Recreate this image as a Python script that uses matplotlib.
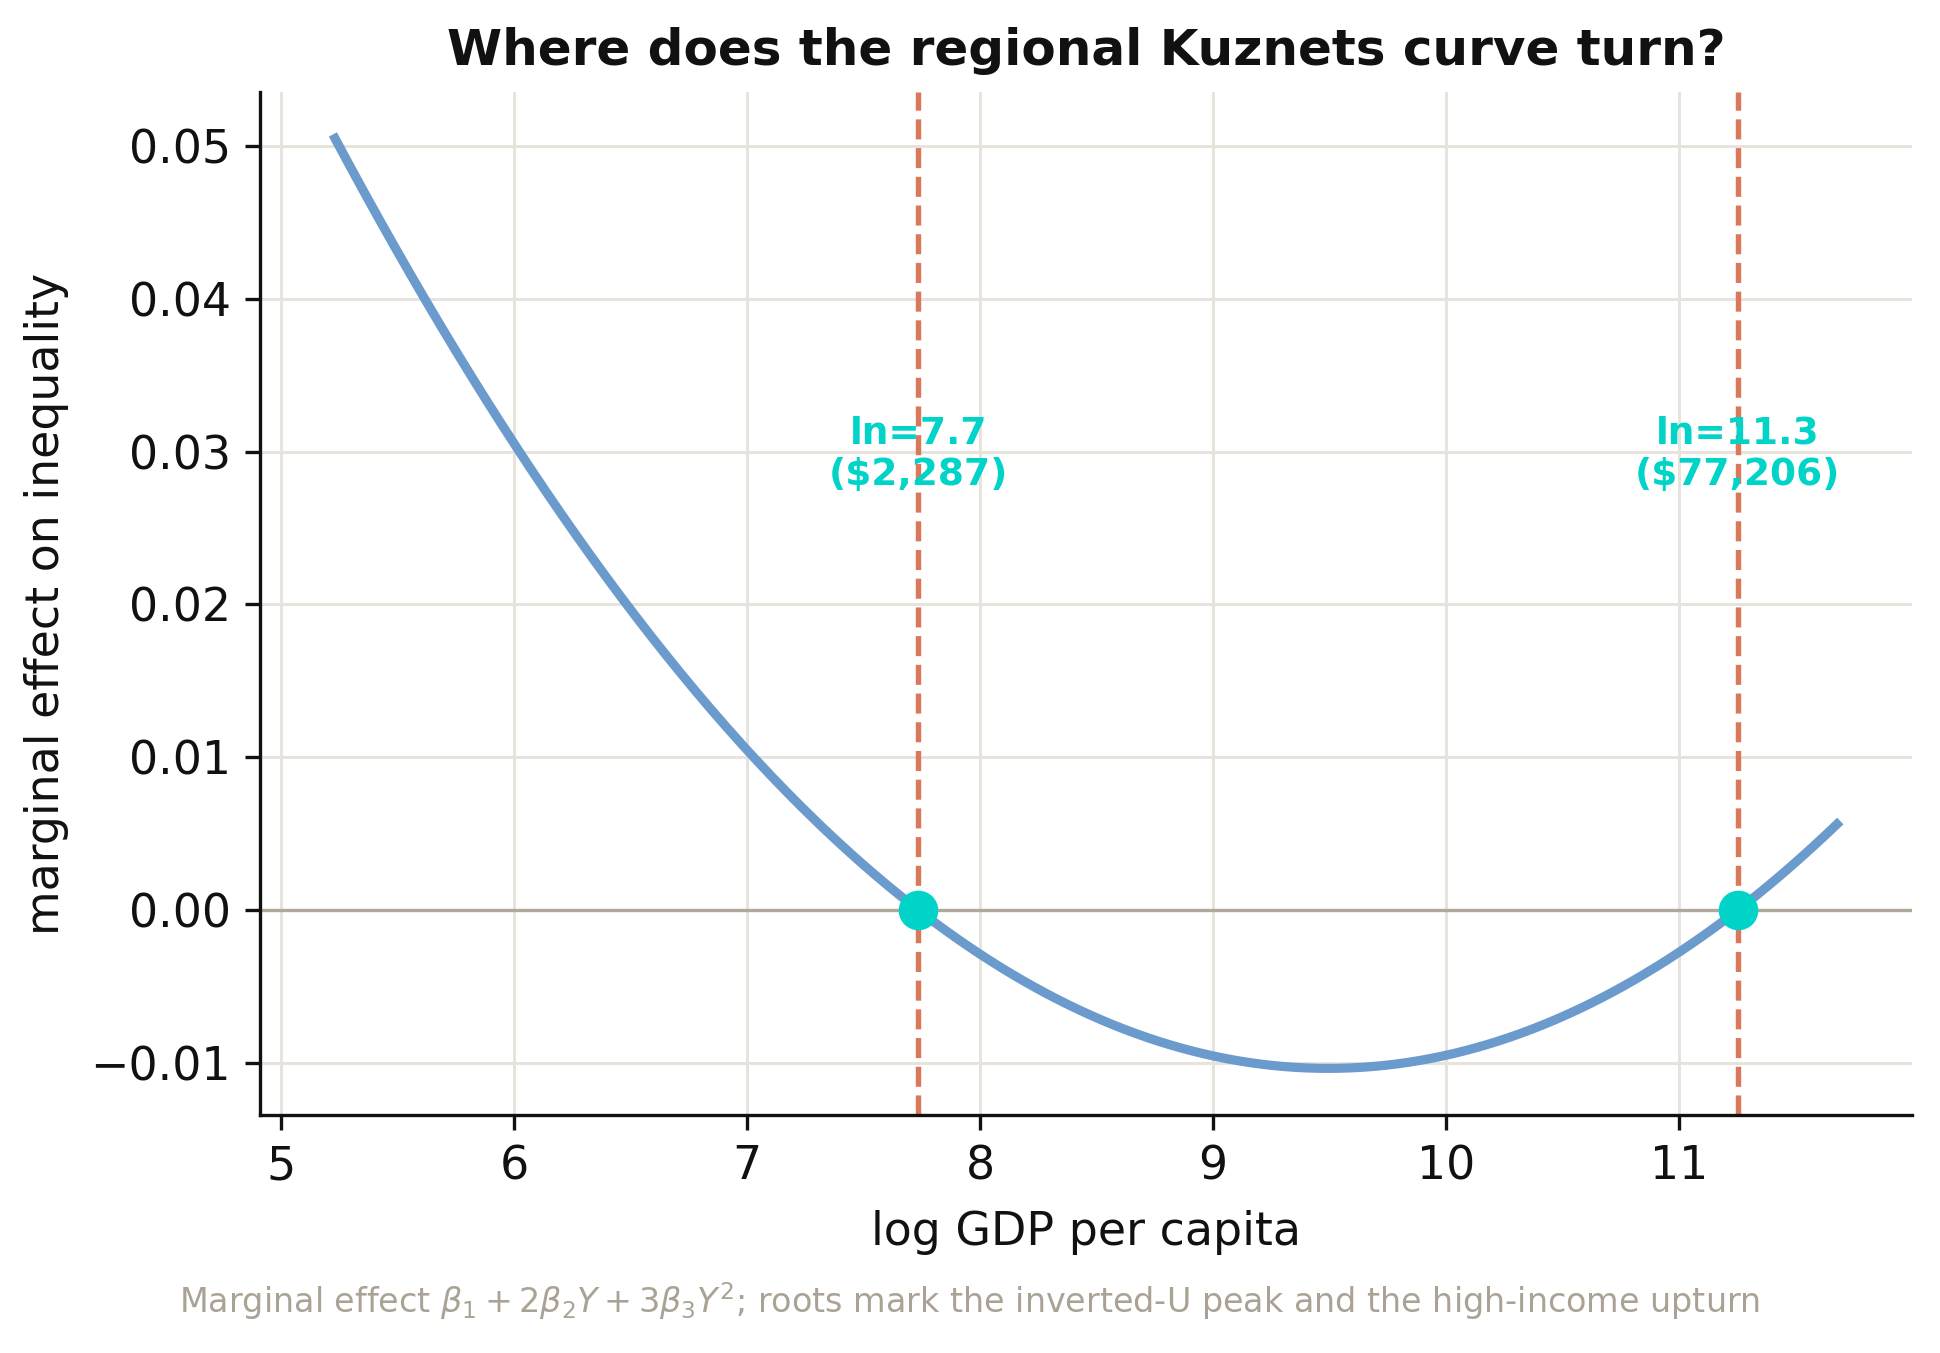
import numpy as np
import matplotlib
matplotlib.use("Agg")
import matplotlib.pyplot as plt

# --- data (coefficients of the cubic Kuznets specification) ---
turn_points_usd = [2287, 77206]          # dollar values at the roots
k_curv = 0.003345                        # 3*beta3
log_gdp_min, log_gdp_max = 5.23, 11.68   # observed log GDP range

roots = np.log(np.array(turn_points_usd, dtype=float))
beta3 = k_curv / 3.0
beta2 = -k_curv * (roots[0] + roots[1]) / 2.0
beta1 = k_curv * roots[0] * roots[1]

Y = np.linspace(log_gdp_min, log_gdp_max, 400)
me = beta1 + 2 * beta2 * Y + 3 * beta3 * Y ** 2

fig = plt.figure(figsize=(1940 / 300, 1353 / 300), dpi=300)
ax = fig.add_axes([0.134, 0.176, 0.8516, 0.756])

ax.grid(True, color="#e6e3dc", linewidth=0.7, zorder=0)
ax.set_axisbelow(True)
ax.axhline(0, color="#b0a89a", linewidth=0.8, zorder=1)
ax.plot(Y, me, color="#6b9bcc", linewidth=2.2, zorder=3)

for r, usd in zip(roots, turn_points_usd):
    ax.axvline(r, color="#d9795a", linestyle="--", linewidth=1.3, zorder=2)
    ax.plot([r], [0], "o", color="#00d4c8", markersize=8.5, zorder=4)
    ax.text(r, 0.0298, f"ln={r:.1f}\n(${usd:,})", color="#00d4c8",
            fontsize=9, fontweight="bold", ha="center", va="center",
            linespacing=1.2, zorder=5)

ax.set_xticks([5, 6, 7, 8, 9, 10, 11])
ax.set_yticks([-0.01, 0.0, 0.01, 0.02, 0.03, 0.04, 0.05])
ax.tick_params(labelsize=11, colors="#111111", width=0.8, length=3.5)
for s in ["top", "right"]:
    ax.spines[s].set_visible(False)
for s in ["left", "bottom"]:
    ax.spines[s].set_color("#111111")
    ax.spines[s].set_linewidth(0.8)

ax.set_xlabel("log GDP per capita", fontsize=11, color="#111111", labelpad=5)
ax.set_ylabel("marginal effect on inequality", fontsize=11, color="#111111", labelpad=5)
ax.set_title("Where does the regional Kuznets curve turn?", fontsize=12,
             fontweight="bold", color="#111111", pad=6.5)

fig.text(0.5, 0.038,
         r"Marginal effect $\beta_1 + 2\beta_2 Y + 3\beta_3 Y^2$; roots mark the inverted-U peak and the high-income upturn",
         ha="center", va="center", fontsize=8, color="#aaa294")

fig.savefig("out.png", dpi=300)
